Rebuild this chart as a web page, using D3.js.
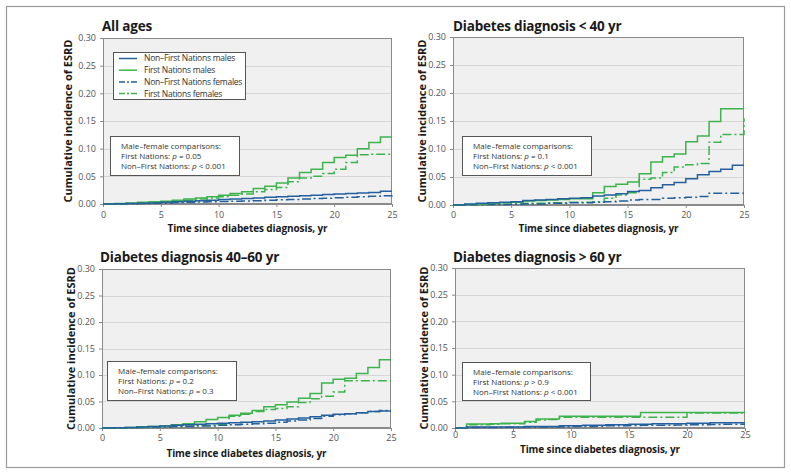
<!DOCTYPE html>
<html><head><meta charset="utf-8">
<script src="https://cdn.jsdelivr.net/npm/d3@7"></script>
<style>
body{margin:0;background:#fff;}
svg{display:block;font-family:"Open Sans","Noto Sans",sans-serif;}
</style></head>
<body><svg id="c" width="791" height="475"></svg>
<script>
// ---- data ----
const years = d3.range(0, 26);
const yTicks = [0, 0.05, 0.10, 0.15, 0.20, 0.25, 0.30];
const xTicks = [0, 5, 10, 15, 20, 25];
const seriesNames = ["Non\u2013First Nations males", "First Nations males", "Non\u2013First Nations females", "First Nations females"];
const panelTitles = ["All ages", "Diabetes diagnosis < 40 yr", "Diabetes diagnosis 40\u201360 yr", "Diabetes diagnosis > 60 yr"];
const compFN = ["= 0.05", "= 0.1", "= 0.2", "> 0.9"];
const compNFN = ["< 0.001", "< 0.001", "= 0.3", "< 0.001"];

// value of each curve from year i to i+1 (index 25 = value at year 25)
const nfnMales1 = [0,0.0005,0.001,0.0015,0.002,0.003,0.004,0.005,0.006,0.007,0.008,0.009,0.010,0.011,0.012,0.013,0.014,0.015,0.016,0.017,0.018,0.019,0.020,0.021,0.023,0.023];
const fnMales1 = [0,0.001,0.002,0.003,0.004,0.005,0.007,0.009,0.011,0.013,0.016,0.019,0.022,0.028,0.032,0.038,0.047,0.057,0.063,0.075,0.084,0.088,0.100,0.111,0.121,0.121];
const nfnFemales1 = [0,0,0.0005,0.001,0.0015,0.002,0.0025,0.003,0.0035,0.004,0.0045,0.005,0.0055,0.006,0.0068,0.0075,0.0083,0.009,0.0098,0.0105,0.0113,0.012,0.013,0.014,0.015,0.016];
const fnFemales1 = [0,0.0005,0.001,0.002,0.003,0.004,0.005,0.007,0.009,0.011,0.013,0.016,0.018,0.022,0.026,0.030,0.040,0.047,0.050,0.055,0.063,0.075,0.089,0.090,0.090,0.090];

const nfnMales2 = [0,0.002,0.003,0.004,0.005,0.006,0.008,0.009,0.010,0.011,0.012,0.013,0.016,0.018,0.020,0.024,0.026,0.031,0.036,0.040,0.047,0.054,0.060,0.064,0.071,0.071];
const fnMales2 = [0,0.001,0.002,0.003,0.004,0.005,0.007,0.008,0.009,0.010,0.011,0.011,0.022,0.033,0.037,0.041,0.056,0.077,0.086,0.091,0.113,0.123,0.149,0.172,0.172,0.172];
const nfnFemales2 = [0,0,0.0005,0.001,0.001,0.0015,0.002,0.002,0.003,0.003,0.004,0.004,0.005,0.006,0.007,0.009,0.010,0.010,0.012,0.013,0.014,0.015,0.021,0.021,0.021,0.021];
const fnFemales2 = [0,0.0005,0.001,0.001,0.0015,0.002,0.003,0.003,0.004,0.004,0.005,0.005,0.006,0.012,0.018,0.022,0.046,0.048,0.058,0.068,0.072,0.074,0.112,0.126,0.126,0.155];

const nfnMales3 = [0,0.0005,0.001,0.002,0.003,0.004,0.005,0.006,0.007,0.008,0.009,0.010,0.011,0.012,0.013,0.015,0.017,0.019,0.021,0.024,0.026,0.027,0.029,0.031,0.032,0.032];
const fnMales3 = [0,0.0005,0.001,0.002,0.003,0.004,0.006,0.008,0.012,0.016,0.020,0.024,0.028,0.033,0.040,0.044,0.049,0.056,0.065,0.085,0.092,0.094,0.103,0.114,0.129,0.129];
const nfnFemales3 = [0,0,0.0005,0.001,0.0015,0.002,0.003,0.003,0.004,0.004,0.005,0.006,0.007,0.008,0.009,0.011,0.013,0.015,0.018,0.022,0.025,0.027,0.029,0.031,0.033,0.033];
const fnFemales3 = [0,0,0.0005,0.001,0.0015,0.002,0.003,0.004,0.005,0.005,0.006,0.022,0.026,0.031,0.035,0.037,0.040,0.048,0.055,0.060,0.068,0.089,0.089,0.089,0.089,0.089];

const nfnMales4 = [0,0.002,0.002,0.002,0.002,0.002,0.003,0.003,0.003,0.004,0.004,0.005,0.005,0.006,0.006,0.007,0.007,0.008,0.008,0.008,0.009,0.009,0.010,0.010,0.010,0.010];
const fnMales4 = [0,0.0075,0.0075,0.008,0.009,0.009,0.012,0.017,0.017,0.022,0.022,0.022,0.022,0.022,0.022,0.022,0.029,0.029,0.029,0.029,0.029,0.029,0.029,0.029,0.029,0.029];
const nfnFemales4 = [0,0.001,0.001,0.001,0.0015,0.0015,0.002,0.002,0.002,0.0025,0.003,0.003,0.0035,0.004,0.004,0.0045,0.005,0.005,0.005,0.0055,0.006,0.006,0.0065,0.007,0.007,0.007];
const fnFemales4 = [0,0.006,0.006,0.007,0.008,0.008,0.011,0.015,0.016,0.020,0.020,0.020,0.020,0.020,0.020,0.020,0.020,0.020,0.020,0.020,0.028,0.028,0.028,0.028,0.028,0.028];

// ---- styles / layout ----
const BLUE = "#23609d", GREEN = "#3cb44b";
const seriesStyle = [
  {color: BLUE, dash: null},
  {color: GREEN, dash: null},
  {color: BLUE, dash: "9,3,2,3"},
  {color: GREEN, dash: "9,3,2,3"}
];
const panelData = [
  [nfnMales1, fnMales1, nfnFemales1, fnFemales1],
  [nfnMales2, fnMales2, nfnFemales2, fnFemales2],
  [nfnMales3, fnMales3, nfnFemales3, fnFemales3],
  [nfnMales4, fnMales4, nfnFemales4, fnFemales4]
];
const layout = [
  {l:103, r:392, t:38, b:204, titleY:31, titleX:102, yTitleX:68, xTickY:218, xTitleY:232, box:{x:110,y:136,w:129,h:39}},
  {l:453, r:744, t:37, b:205, titleY:31, titleX:453, yTitleX:422, xTickY:218, xTitleY:232, box:{x:462,y:136,w:129,h:39}},
  {l:102, r:391, t:269, b:428, titleY:262, titleX:100, yTitleX:71, xTickY:441, xTitleY:457, box:{x:107,y:361,w:129,h:39}},
  {l:455, r:745, t:268, b:428, titleY:262, titleX:453, yTitleX:424, xTickY:438, xTitleY:453, box:{x:462,y:362,w:128,h:38}}
];

const svg = d3.select("#c");
svg.append("rect").attr("x",6.5).attr("y",6.5).attr("width",778).attr("height",461)
  .attr("fill","#fff").attr("stroke","#9a9a9a").attr("stroke-width",1.2);

panelData.forEach((series, pi) => {
  const L = layout[pi];
  const x = d3.scaleLinear().domain([0,25]).range([L.l, L.r]);
  const y = d3.scaleLinear().domain([0,0.30]).range([L.b, L.t]);
  const g = svg.append("g");
  g.append("rect").attr("x",L.l).attr("y",L.t).attr("width",L.r-L.l).attr("height",L.b-L.t).attr("fill","#f0f0f0");
  g.selectAll(".grid").data(yTicks.slice(1)).join("line")
    .attr("x1",L.l).attr("x2",L.r).attr("y1",d=>Math.round(y(d))+0.5).attr("y2",d=>Math.round(y(d))+0.5)
    .attr("stroke","#d6d6d6").attr("stroke-width",1);
  g.append("rect").attr("x",L.l+0.5).attr("y",L.t+0.5).attr("width",L.r-L.l-1).attr("height",L.b-L.t-1)
    .attr("fill","none").attr("stroke","#8a8a8a").attr("stroke-width",1);
  const ya = g.append("g").attr("transform",`translate(${L.l},0)`)
    .call(d3.axisLeft(y).tickValues(yTicks).tickFormat(d3.format(".2f")).tickSize(3).tickPadding(4));
  const xa = g.append("g").attr("transform",`translate(0,${L.b})`)
    .call(d3.axisBottom(x).tickValues(xTicks).tickSize(3).tickPadding(3));
  [ya, xa].forEach(a => {
    a.select(".domain").attr("stroke","#8a8a8a");
    a.selectAll(".tick line").attr("stroke","#8a8a8a");
    a.selectAll("text").attr("fill","#555").attr("font-size",9).attr("font-family","'Open Sans',sans-serif");
  });
  xa.selectAll("text").attr("y", null).attr("dy", null).attr("transform", `translate(0,${L.xTickY - L.b})`);
  const line = d3.line().x((d,i)=>x(years[i])).y(d=>y(d)).curve(d3.curveStepAfter);
  [3,2,1,0].forEach(si => {
    g.append("path").attr("d", line(series[si])).attr("fill","none")
      .attr("stroke", seriesStyle[si].color).attr("stroke-width",1.5)
      .attr("stroke-dasharray", seriesStyle[si].dash);
  });
  svg.append("text").attr("x",L.titleX).attr("y",L.titleY).attr("font-size",13.5).attr("font-weight","bold")
    .attr("letter-spacing",-0.2).attr("fill","#1a1a1a").text(panelTitles[pi]);
  svg.append("text").attr("transform",`translate(${L.yTitleX},${(L.t+L.b)/2}) rotate(-90)`)
    .attr("text-anchor","middle").attr("dy","0.35em").attr("font-size",11).attr("font-weight","bold")
    .attr("fill","#1a1a1a").text("Cumulative incidence of ESRD");
  svg.append("text").attr("x",(L.l+L.r)/2).attr("y",L.xTitleY).attr("text-anchor","middle")
    .attr("font-size",10).attr("letter-spacing",-0.1).attr("font-weight","bold").attr("fill","#1a1a1a")
    .text("Time since diabetes diagnosis, yr");
  const B = L.box;
  svg.append("rect").attr("x",B.x+0.5).attr("y",B.y+0.5).attr("width",B.w).attr("height",B.h)
    .attr("fill","#fff").attr("stroke","#555").attr("stroke-width",1);
  const tx = B.x + 11;
  const t = svg.append("g").attr("font-size",8).attr("fill","#333");
  t.append("text").attr("x",tx).attr("y",B.y+12.5).text("Male\u2013female comparisons:");
  const l2 = t.append("text").attr("x",tx).attr("y",B.y+22.5);
  l2.append("tspan").text("First Nations: ");
  l2.append("tspan").attr("font-style","italic").text("p");
  l2.append("tspan").text(" " + compFN[pi]);
  const l3 = t.append("text").attr("x",tx).attr("y",B.y+32.5);
  l3.append("tspan").text("Non\u2013First Nations: ");
  l3.append("tspan").attr("font-style","italic").text("p");
  l3.append("tspan").text(" " + compNFN[pi]);
});

// legend (panel 1)
const lg = svg.append("g");
lg.append("rect").attr("x",113.5).attr("y",52.5).attr("width",132).attr("height",47)
  .attr("fill","#fff").attr("stroke","#555").attr("stroke-width",1);
seriesNames.forEach((n,i) => {
  const yy = 58.5 + i*11.7;
  lg.append("line").attr("x1",119).attr("x2",137).attr("y1",yy).attr("y2",yy)
    .attr("stroke",seriesStyle[i].color).attr("stroke-width",1.5).attr("stroke-dasharray",seriesStyle[i].dash ? "6,2,2,2" : null);
  lg.append("text").attr("x",144).attr("y",yy).attr("dy","0.35em").attr("font-size",8.5)
    .attr("letter-spacing",-0.25).attr("fill","#333").text(n);
});
</script></body></html>
